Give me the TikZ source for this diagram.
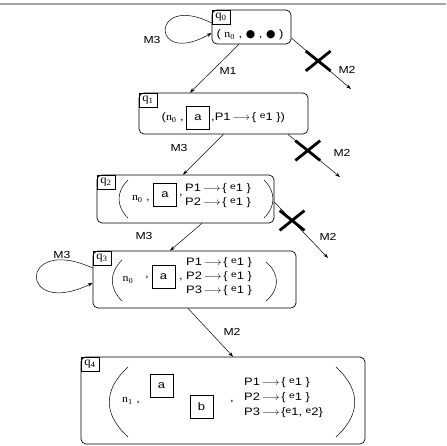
\documentclass[tikz,border=0pt]{standalone}
\usepackage{fontspec}
\setmainfont{Liberation Sans}[FakeStretch=1.2]
\newfontfamily\tms{Liberation Serif}[FakeStretch=1.1]
\newfontfamily\djv{DejaVu Sans}
\usetikzlibrary{arrows.meta,shapes.misc}
\tikzset{
  state/.style={draw,rounded corners=5pt,line width=0.7pt,inner sep=0pt},
  qlab/.style={draw,line width=0.5pt,anchor=north west,inner sep=0pt,
    minimum width=18pt,minimum height=14pt,font=\tms\fontsize{11.5}{11}\selectfont},
  sq/.style={draw,line width=0.6pt,minimum width=23pt,minimum height=23pt,inner sep=0pt,
    font=\fontsize{10.8}{11}\selectfont},
  lab/.style={font=\fontsize{10.2}{11}\selectfont,inner sep=1pt},
  txt/.style={font=\fontsize{10.8}{11}\selectfont,inner sep=1pt},
  tr/.style={-{Stealth[length=5pt,width=3.5pt]},line width=0.5pt},
  cross/.style={draw,cross out,line width=2.8pt,minimum width=22pt,minimum height=17pt,inner sep=0pt},
  paren/.style={line width=0.5pt},
}
\newcommand{\nsub}[1]{{\tms n\textsubscript{#1}}}
\newcommand{\ee}[1]{\raisebox{2.5pt}{\fontsize{8.5}{8}\selectfont e}#1}
\newcommand{\tto}{\,$\longrightarrow$\,}
\begin{document}
\begin{tikzpicture}[x=1pt,y=1pt]
  \useasboundingbox (0,0) rectangle (446,-446);
  \draw[gray!70,line width=1.2pt] (0,-4) -- (446,-4);

  % states
  \node[state,minimum width=79pt,minimum height=34pt] (q0) at (251.5,-27) {};
  \node[qlab] (q0l) at (q0.north west) {q\textsubscript{0}};
  \node[txt] (c0) at (250,-35) {( \nsub{0} , {\djv ●} , {\djv ●} )};

  \node[state,minimum width=169pt,minimum height=41pt] (q1) at (223.5,-113.5) {};
  \node[qlab] (q1l) at (q1.north west) {q\textsubscript{1}};
  \node[txt,anchor=east] (c1a) at (185,-118) {(\nsub{0} ,};
  \node[sq] (a1) at (198,-117.5) {a};
  \node[txt,anchor=west] (c1b) at (210,-118) {,P1\tto\{ \ee{1} \})};

  \node[state,minimum width=177pt,minimum height=48pt] (q2) at (185.5,-199) {};
  \node[qlab] (q2l) at (q2.north west) {q\textsubscript{2}};
  \draw[paren] (128,-180) .. controls (116,-192) and (116,-206) .. (128,-218);
  \draw[paren] (264,-180) .. controls (276,-192) and (276,-206) .. (264,-218);
  \node[txt,anchor=east] (c2a) at (151,-199) {\nsub{0} ,};
  \node[sq] (a2) at (165,-194.5) {a};
  \node[txt] (c2b) at (181,-196) {,};
  \node[txt,anchor=west] (p21) at (184,-189) {P1\tto\{ \ee{1} \}};
  \node[txt,anchor=west] (p22) at (184,-203) {P2\tto\{ \ee{1} \}};

  \node[state,minimum width=203pt,minimum height=57pt] (q3) at (194.5,-279.5) {};
  \node[qlab] (q3l) at (q3.north west) {q\textsubscript{3}};
  \draw[paren] (122,-260) .. controls (109,-273) and (109,-288) .. (122,-301);
  \draw[paren] (266,-262) .. controls (280,-274) and (280,-289) .. (266,-301);
  \node[txt] (c3a) at (128,-280) {\nsub{0}};
  \node[txt] (c3b) at (147,-278) {,};
  \node[sq] (a3) at (163.5,-276.5) {a};
  \node[txt] (c3c) at (181,-280) {,};
  \node[txt,anchor=west] (p31) at (185,-263) {P1\tto\{ \ee{1} \}};
  \node[txt,anchor=west] (p32) at (185,-277) {P2\tto\{ \ee{1} \}};
  \node[txt,anchor=west] (p33) at (185,-291) {P3\tto\{ \ee{1} \}};

  \node[state,minimum width=284pt,minimum height=87pt] (q4) at (223,-400.5) {};
  \node[qlab] (q4l) at (q4.north west) {q\textsubscript{4}};
  \draw[paren] (128,-367) .. controls (103,-390) and (103,-414) .. (128,-437);
  \draw[paren] (336,-367) .. controls (361,-390) and (361,-414) .. (336,-437);
  \node[txt] (c4a) at (131,-401) {\nsub{1} ,};
  \node[sq] (a4) at (161.5,-385.5) {a};
  \node[sq] (b4) at (201.5,-406.5) {b};
  \node[txt] (c4b) at (232,-402) {,};
  \node[txt,anchor=west] (p41) at (243,-383) {P1\tto\{ \ee{1} \}};
  \node[txt,anchor=west] (p42) at (243,-398) {P2\tto\{ \ee{1} \}};
  \node[txt,anchor=west] (p43) at (243,-413) {P3\tto\{\ee{1}, \ee{2}\}};

  % free ends of the M2 moves
  \coordinate (e0) at (351,-89);
  \coordinate (e1) at (340,-177);
  \coordinate (e2) at (328,-258);

  % transitions
  \draw[tr] ([yshift=4pt]q0.west) .. controls (150,8) and (150,-68) .. ([yshift=-6pt]q0.west);
  \node[lab] (m30) at (152,-40) {M3};
  \draw[tr] ([xshift=-12.5pt]q0.south) -- ([xshift=-33.5pt]q1.north);
  \node[lab] (m10) at (228,-71) {M1};
  \draw[tr] ([yshift=-11pt]q0.east) -- node[cross,pos=0.45] (x0) {} (e0);
  \node[lab] (m20) at (347,-70) {M2};

  \draw[tr] (q1.south) -- ([xshift=-2.5pt]q2.north);
  \node[lab] (m31) at (179,-148) {M3};
  \draw[tr] ([xshift=64.5pt]q1.south) -- node[cross,pos=0.38] (x1) {} (e1);
  \node[lab] (m21) at (342,-153) {M2};

  \draw[tr] ([xshift=16.5pt]q2.south) -- ([xshift=-24.5pt]q3.north);
  \node[lab] (m32) at (144,-236) {M3};
  \draw[tr] ([yshift=-3pt]q2.east) -- node[cross,pos=0.33] (x2) {} (e2);
  \node[lab] (m22) at (328,-237) {M2};

  \draw[tr] ([yshift=11.5pt]q3.west) .. controls (18,-234) and (18,-319) .. ([yshift=-3.5pt]q3.west);
  \node[lab] (m33) at (62,-255) {M3};
  \draw[tr] ([xshift=-6.5pt]q3.south) -- ([xshift=10pt]q4.north);
  \node[lab] (m23) at (232,-332) {M2};
\end{tikzpicture}
\end{document}
